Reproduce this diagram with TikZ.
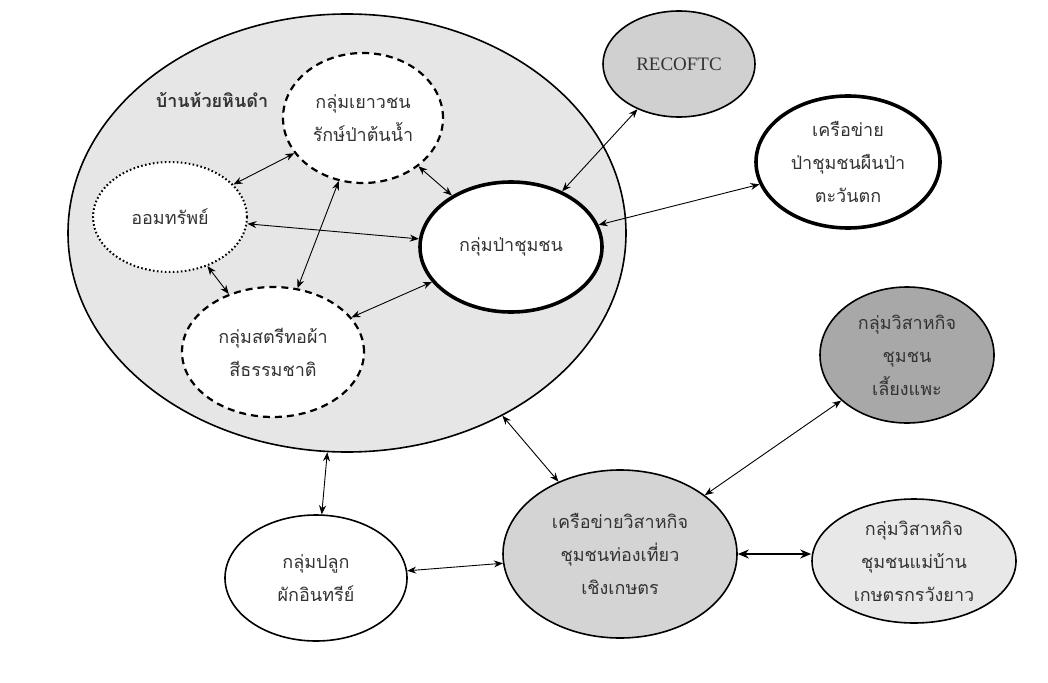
\documentclass[tikz,border=0pt]{standalone}
\usepackage{fontspec}
\newfontfamily\thai[Script=Thai]{Loma}
\newfontfamily\rserif{Liberation Serif}
\usetikzlibrary{shapes.geometric,arrows.meta}
\definecolor{txt}{HTML}{333333}
\definecolor{bigfill}{HTML}{E6E6E6}
\definecolor{recfill}{HTML}{D0D0D0}
\definecolor{goatfill}{HTML}{A8A8A8}
\definecolor{centfill}{HTML}{D4D4D4}
\definecolor{maefill}{HTML}{E8E8E8}
\begin{document}
\begin{tikzpicture}[x=1pt,y=-1pt,
  ell/.style={ellipse, draw=black, inner xsep=0pt, inner ysep=-10pt, text=txt, align=center,
    font=\thai\fontsize{18}{33}\selectfont},
  sz/.style 2 args={minimum width=#1, minimum height=#2},
  thin/.style={line width=1.6pt},
  thick/.style={line width=3.6pt},
  dashedge/.style={line width=2.2pt, dash pattern=on 7pt off 5pt},
  dottededge/.style={line width=2pt, dash pattern=on 1.6pt off 2.4pt},
  arr/.style={line width=0.9pt, {Stealth[length=9pt,width=7pt]}-{Stealth[length=9pt,width=7pt]}},
  arrthick/.style={line width=1.5pt, {Stealth[length=11pt,width=9pt]}-{Stealth[length=11pt,width=9pt]}}
]
\useasboundingbox (0,0) rectangle (1048,682);
\fill[white] (0,0) rectangle (1048,682);

% village
\node[ell, thin, fill=bigfill, sz={558pt}{438pt}] (vil) at (347,233) {};
\node[font=\thai\bfseries\fontsize{18}{20}\selectfont, text=txt, inner sep=0pt] (vlabel) at (212,100) {บ้านห้วยหินดำ};

% inner groups
\node[ell, fill=white, dashedge, sz={160pt}{130pt}] (youth) at (363,118) {กลุ่มเยาวชน\\รักษ์ป่าต้นน้ำ};
\node[ell, fill=white, dottededge, sz={154pt}{110pt}] (sav) at (170,217) {ออมทรัพย์};
\node[ell, fill=white, dashedge, sz={182pt}{130pt}] (women) at (273,352) {กลุ่มสตรีทอผ้า\\สีธรรมชาติ};
\node[ell, fill=white, thick, sz={182pt}{130pt}] (forest) at (511,247) {กลุ่มป่าชุมชน};

% outer nodes
\node[ell, fill=recfill, thin, sz={152pt}{106pt}, font=\rserif\fontsize{19}{22}\selectfont] (rec) at (679,64) {RECOFTC};
\node[ell, fill=white, thick, sz={184pt}{132pt}] (west) at (848,162) {เครือข่าย\\ป่าชุมชนผืนป่า\\ตะวันตก};
\node[ell, fill=goatfill, thin, sz={174pt}{136pt}] (goat) at (907,355) {กลุ่มวิสาหกิจ\\ชุมชน\\เลี้ยงแพะ};
\node[ell, fill=centfill, thin, sz={234pt}{168pt}] (tour) at (620,554) {เครือข่ายวิสาหกิจ\\ชุมชนท่องเที่ยว\\เชิงเกษตร};
\node[ell, fill=maefill, thin, sz={204pt}{124pt}] (mae) at (914,561) {กลุ่มวิสาหกิจ\\ชุมชนแม่บ้าน\\เกษตรกรวังยาว};
\node[ell, fill=white, thin, sz={182pt}{126pt}] (veg) at (316,578) {กลุ่มปลูก\\ผักอินทรีย์};

% connectors
\draw[arr] (sav) -- (youth);
\draw[arr] (sav) -- (forest);
\draw[arr] (sav) -- (women);
\draw[arr] (youth) -- (women);
\draw[arr] (youth) -- (forest);
\draw[arr] (women) -- (forest);
\draw[arr] (forest) -- (rec);
\draw[arr] (forest) -- (west);
\draw[arr] (vil) -- (tour);
\draw[arr] (vil) -- (veg);
\draw[arr] (veg) -- (tour);
\draw[arr] (tour) -- (goat);
\draw[arrthick] (tour.east) -- (tour.east -| mae.west);
\end{tikzpicture}
\end{document}
